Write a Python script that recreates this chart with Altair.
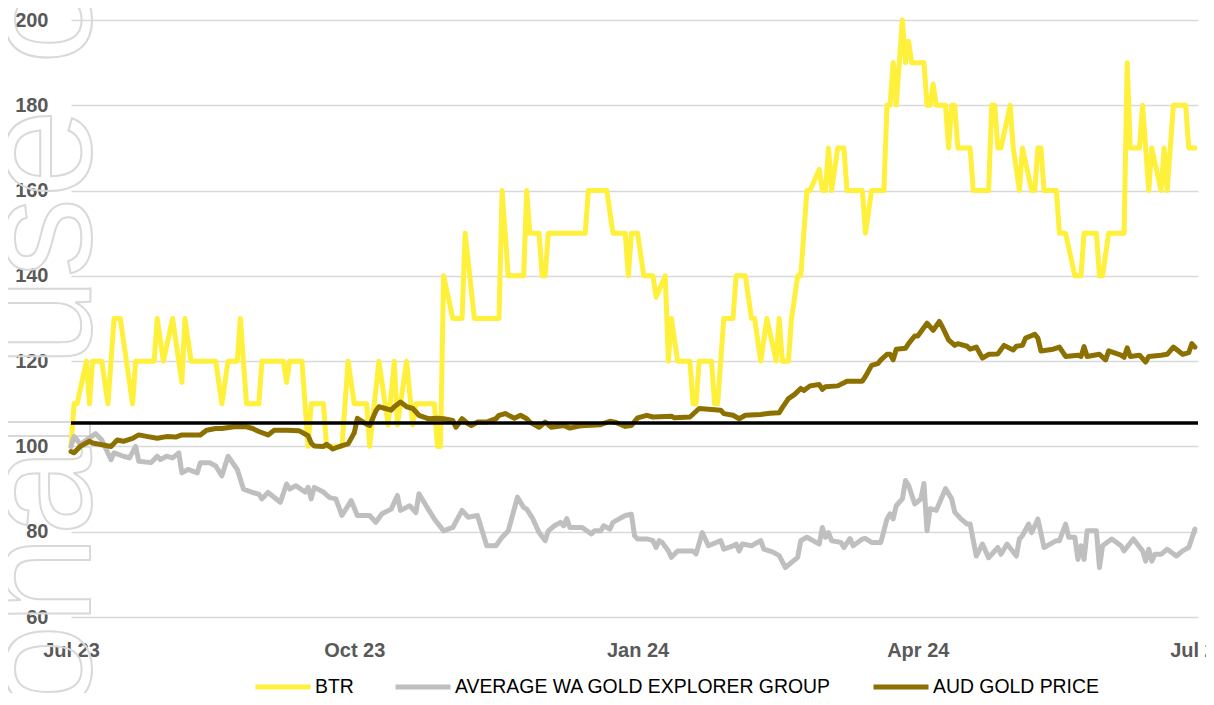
import altair as alt
import pandas as pd

START = "2023-07-01"

# ---- BTR (days since 1 Jul 2023, indexed value)
btr_day = [0, 1, 2, 5, 6, 7, 10, 12, 14, 16, 20, 21, 27, 28, 30, 33, 36, 37, 39, 47, 49, 51, 54, 55, 57, 61, 62,
           69, 70, 71, 75, 77, 78, 82, 83, 88, 90, 92, 96, 97, 100, 103, 105, 106, 109, 111, 112, 118, 119, 120,
           121, 124, 127, 128, 131, 139, 140, 142, 147, 148, 149, 152, 153, 154, 155, 167, 168, 174, 176, 180,
           181, 182, 184, 186, 189, 190, 193, 194, 195, 197, 201, 202, 203, 204, 208, 209, 210, 212, 215, 216,
           219, 221, 222, 224, 226, 229, 230, 231, 233, 234, 236, 237, 239, 240, 243, 244, 245, 246, 247, 249,
           251, 252, 257, 258, 260, 264, 265, 266, 267, 268, 270, 271, 272, 273, 277, 278, 279, 280, 281, 284,
           285, 286, 287, 288, 292, 293, 298, 299, 300, 301, 302, 305, 306, 308, 309, 312, 313, 314, 315, 316,
           320, 321, 323, 326, 328, 329, 333, 334, 335, 337, 342, 343, 344, 347, 348, 350, 351, 354, 355, 356,
           358, 362, 363, 365]
btr_val = [100, 110, 110, 120, 110, 120, 120, 110, 130, 130, 110, 120, 120, 130, 120, 130, 115, 130, 120, 120,
           110, 120, 120, 130, 110, 110, 120, 120, 115, 120, 120, 100, 110, 110, 100, 100, 120, 110, 110, 100,
           120, 105, 120, 105, 120, 105, 110, 110, 100, 100, 140, 130, 130, 150, 130, 130, 160, 140, 140, 160,
           150, 150, 140, 140, 150, 150, 160, 160, 150, 150, 140, 150, 150, 140, 140, 135, 140, 120, 130, 120,
           120, 110, 110, 120, 120, 110, 110, 130, 130, 140, 140, 130, 130, 120, 130, 120, 130, 120, 120, 130,
           140, 140, 160, 160, 165, 160, 160, 170, 160, 170, 170, 160, 160, 150, 160, 160, 180, 180, 190, 180,
           200, 190, 195, 190, 190, 180, 180, 185, 180, 180, 170, 180, 180, 170, 170, 160, 160, 180, 180, 170,
           170, 180, 170, 160, 170, 160, 160, 170, 170, 160, 160, 150, 150, 140, 140, 150, 150, 140, 140, 150,
           150, 190, 170, 170, 180, 160, 170, 160, 170, 160, 180, 180, 170, 170]

# ---- Average WA gold explorer group
grp_day = [0, 1, 2, 3, 5, 8, 10, 13, 14, 17, 19, 21, 22, 26, 28, 29, 31, 33, 35, 36, 38, 41, 42, 45, 47, 49, 51,
           54, 56, 59, 61, 62, 64, 68, 70, 71, 73, 76, 77, 78, 79, 82, 84, 86, 88, 91, 93, 97, 99, 101, 104, 106,
           107, 110, 112, 113, 116, 118, 121, 124, 127, 129, 132, 135, 138, 140, 142, 145, 147, 148, 150, 152,
           154, 155, 157, 159, 160, 161, 162, 166, 169, 170, 172, 173, 175, 176, 178, 180, 182, 183, 184, 187,
           189, 190, 191, 192, 194, 195, 197, 202, 203, 205, 207, 211, 212, 215, 216, 217, 218, 221, 224, 225,
           228, 230, 232, 234, 236, 237, 239, 243, 244, 245, 246, 247, 250, 251, 253, 254, 257, 258, 260, 263,
           265, 266, 267, 268, 269, 270, 271, 272, 274, 276, 277, 278, 279, 281, 284, 286, 287, 289, 291, 292,
           294, 296, 298, 301, 302, 304, 307, 308, 309, 311, 312, 314, 316, 320, 321, 323, 324, 326, 327, 328,
           329, 330, 333, 334, 335, 338, 341, 342, 345, 348, 349, 350, 351, 352, 354, 356, 359, 361, 363, 365]
grp_val = [100, 102.3, 101.5, 100.4, 101.5, 103, 101.5, 96.9, 98.5, 97.7, 97.3, 100, 96.5, 96.2, 97.7, 96.9,
           97.7, 97.3, 98.5, 93.8, 94.6, 93.8, 96.2, 96.2, 95.4, 93.1, 97.7, 94.6, 90, 89.2, 88.8, 87.7, 89.2,
           86.9, 91.2, 90, 90.8, 89.3, 90.4, 87.7, 90.4, 89.3, 88, 87.7, 83.8, 87.3, 83.8, 83.8, 82.2, 84.2,
           85.3, 88.5, 85, 86.1, 84.5, 88.9, 85.3, 83, 80.2, 81, 85, 83.4, 83.8, 76.7, 76.7, 78.7, 80.2, 88.1,
           85.7, 85.3, 83, 79.8, 77.9, 80.2, 81.4, 82.2, 81.4, 83.1, 81, 81, 79.5, 80.2, 80.2, 81.4, 80.6, 82.2,
           83, 83.8, 84.1, 79.1, 78.3, 78.3, 77.9, 76.3, 77.9, 77.5, 75.5, 74, 75.5, 75.5, 74.8, 79.8, 76.7,
           77.9, 75.9, 76.7, 77.1, 75.5, 77.1, 76.7, 77.9, 75.9, 75.2, 74.4, 71.6, 72.8, 74, 77.9, 78.7, 77.1,
           81, 78.7, 79.8, 77.9, 77.5, 76.3, 78.4, 76.7, 78.3, 78.4, 77.5, 77.5, 83, 84.2, 83, 86.1, 86.9, 87.7,
           92, 90.9, 86.5, 87.7, 91.3, 80.2, 85.4, 85, 90.1, 87.7, 84.6, 83, 81.8, 81.8, 74.3, 77.1, 73.9, 76.3,
           74.7, 77.1, 74.3, 78.3, 79.1, 81.8, 79.8, 83, 76.3, 77.9, 77.9, 81.8, 78.7, 78.7, 73.5, 76.7, 73.5,
           80.2, 80.2, 71.6, 76.7, 78.3, 76.7, 75.5, 78.3, 75.5, 73.1, 75.9, 73.1, 74.7, 74.7, 75.9, 74.3, 75.5,
           76.3, 80.6]

# ---- AUD gold price
gold_day = [0, 1, 3, 6, 7, 10, 13, 15, 17, 20, 22, 25, 28, 31, 34, 36, 42, 44, 47, 49, 53, 57, 59, 61, 64, 66,
            70, 74, 77, 78, 79, 82, 83, 85, 88, 90, 92, 93, 96, 97, 99, 100, 104, 105, 107, 109, 111, 113, 116,
            119, 121, 124, 125, 127, 129, 130, 132, 135, 138, 139, 141, 144, 146, 148, 149, 150, 152, 154, 156,
            160, 162, 165, 167, 172, 175, 177, 180, 182, 184, 187, 189, 195, 196, 201, 204, 211, 212, 215, 217,
            219, 224, 227, 230, 231, 233, 235, 237, 238, 240, 243, 244, 245, 249, 252, 257, 258, 260, 262, 263,
            265, 266, 267, 268, 271, 272, 274, 275, 278, 280, 282, 283, 285, 287, 288, 291, 292, 294, 296, 298,
            301, 303, 306, 307, 309, 310, 313, 314, 315, 319, 321, 323, 327, 328, 329, 330, 334, 336, 337, 341,
            342, 343, 344, 347, 349, 350, 354, 356, 358, 361, 363, 364, 365]
gold_val = [98.8, 98.5, 100, 101.2, 100.8, 100.4, 100, 101.5, 101.2, 101.9, 102.7, 102.3, 101.9, 102.3, 102.2,
            102.7, 102.7, 103.8, 104.2, 104.2, 104.6, 104.6, 104.2, 103.5, 102.7, 103.8, 103.8, 103.7, 102.5,
            100.8, 100.1, 100, 100.5, 99.4, 100.2, 100.6, 103.2, 106.6, 105.2, 104.9, 108.3, 109.3, 108.5, 109.3,
            110.4, 109.3, 108.9, 107.3, 106.5, 106.6, 106.5, 106.1, 104.5, 106.5, 105.3, 104.9, 105.7, 105.7,
            106.5, 107.3, 107.7, 106.6, 107.3, 106.5, 105.7, 105.3, 104.5, 105.7, 104.5, 104.9, 104.3, 104.8,
            104.9, 105.1, 105.9, 105.6, 104.7, 104.9, 106.7, 107.3, 106.9, 107.1, 106.7, 106.9, 108.9, 108.5,
            107.7, 107.3, 106.5, 107.3, 107.5, 107.8, 107.9, 109.1, 111.2, 112.2, 113.6, 113.1, 114.2, 114.5,
            113.4, 114, 114.2, 115.3, 115.3, 116.4, 119, 119.4, 120.3, 121.6, 121.6, 120.3, 122.8, 123, 124.1,
            125.9, 125.9, 128.9, 127.2, 129.3, 128, 125, 123.7, 124.1, 123.5, 122.8, 123.3, 120.7, 121.6, 121.7,
            123.7, 122.6, 123.5, 123.7, 125.4, 126.3, 125.4, 122.4, 122.8, 123.3, 121.1, 121.4, 121.1, 123.4,
            121.1, 121.6, 120.3, 122.4, 121.4, 120.9, 123.1, 121.1, 121.4, 119.8, 121.1, 121.4, 121.6, 123.3,
            121.6, 122, 124.1, 123.3]

series_names = ["BTR", "AVERAGE WA GOLD EXPLORER GROUP", "AUD GOLD PRICE"]
series_colors = ["#FFF03C", "#BFBFBF", "#8C7000"]
ref_level = [105.5]
y_ticks = [60, 80, 100, 120, 140, 160, 180, 200]
watermark_text = ["For personal use only"]


def frame(days, vals, name):
    return pd.DataFrame({
        "date": pd.Timestamp(START) + pd.to_timedelta(days, unit="D"),
        "value": vals,
        "series": name,
    })


df = pd.concat([
    frame(btr_day, btr_val, series_names[0]),
    frame(grp_day, grp_val, series_names[1]),
    frame(gold_day, gold_val, series_names[2]),
], ignore_index=True)

x_ticks = [alt.DateTime(year=2023, month=7, date=1), alt.DateTime(year=2023, month=10, date=1),
           alt.DateTime(year=2024, month=1, date=1), alt.DateTime(year=2024, month=4, date=1),
           alt.DateTime(year=2024, month=7, date=1)]

FONT = "Liberation Sans"

x_enc = alt.X("date:T", title=None,
              scale=alt.Scale(domain=[x_ticks[0], x_ticks[-1]]),
              axis=alt.Axis(values=x_ticks, format="%b %y", grid=False, domain=False, ticks=False,
                            tickSize=0, labelFont=FONT, labelFontSize=20, labelFontWeight="bold",
                            labelColor="#595959", labelPadding=39, labelBaseline="alphabetic",
                            labelOverlap=False, labelFlush=False))
y_enc = alt.Y("value:Q", title=None,
              scale=alt.Scale(domain=[60, 200], nice=False, zero=False),
              axis=alt.Axis(values=y_ticks, grid=True, gridColor="#D9D9D9", gridWidth=1.5,
                            domain=False, ticks=False, tickSize=0, labelFont=FONT, labelFontSize=20,
                            labelFontWeight="bold", labelColor="#595959", labelPadding=23))
color_enc = alt.Color("series:N", title=None,
                      scale=alt.Scale(domain=series_names, range=series_colors),
                      legend=alt.Legend(orient="none", direction="horizontal", legendX=182, legendY=637,
                                        symbolType="stroke", symbolSize=3025, symbolStrokeWidth=5,
                                        columnPadding=31, labelOffset=2, labelFont=FONT, labelFontSize=19.4,
                                        labelColor="#000000", labelLimit=600, padding=0))

base = alt.Chart(df)

watermark = alt.Chart(pd.DataFrame({"t": watermark_text})).mark_text(
    angle=270, fontSize=160, font=FONT, fill="#FFFFFF", fillOpacity=0, stroke="#D9D9D9",
    strokeWidth=2, align="center", baseline="alphabetic"
).encode(text="t:N", x=alt.value(19), y=alt.value(520))

layers = [watermark]
for name in series_names:
    layers.append(
        base.transform_filter(alt.datum.series == name)
        .mark_line(strokeWidth=5, strokeJoin="round", strokeCap="round")
        .encode(x=x_enc, y=y_enc, color=color_enc)
    )

rule = alt.Chart(pd.DataFrame({"y": ref_level})).mark_rule(color="#000000", strokeWidth=3.5).encode(
    y=alt.Y("y:Q")
)
layers.append(rule)

chart = alt.layer(*layers).properties(
    width=1127, height=597,
    autosize=alt.AutoSizeParams(type="none"),
    padding={"left": 63, "top": 12, "right": 8, "bottom": 76},
    view=alt.ViewBackground(stroke="transparent", strokeWidth=0),
).configure_view(stroke="transparent", strokeWidth=0).configure_axis(
    domain=False
).configure(background="#FFFFFF")

chart.save("out.html", embed_options={"renderer": "svg", "actions": False})
